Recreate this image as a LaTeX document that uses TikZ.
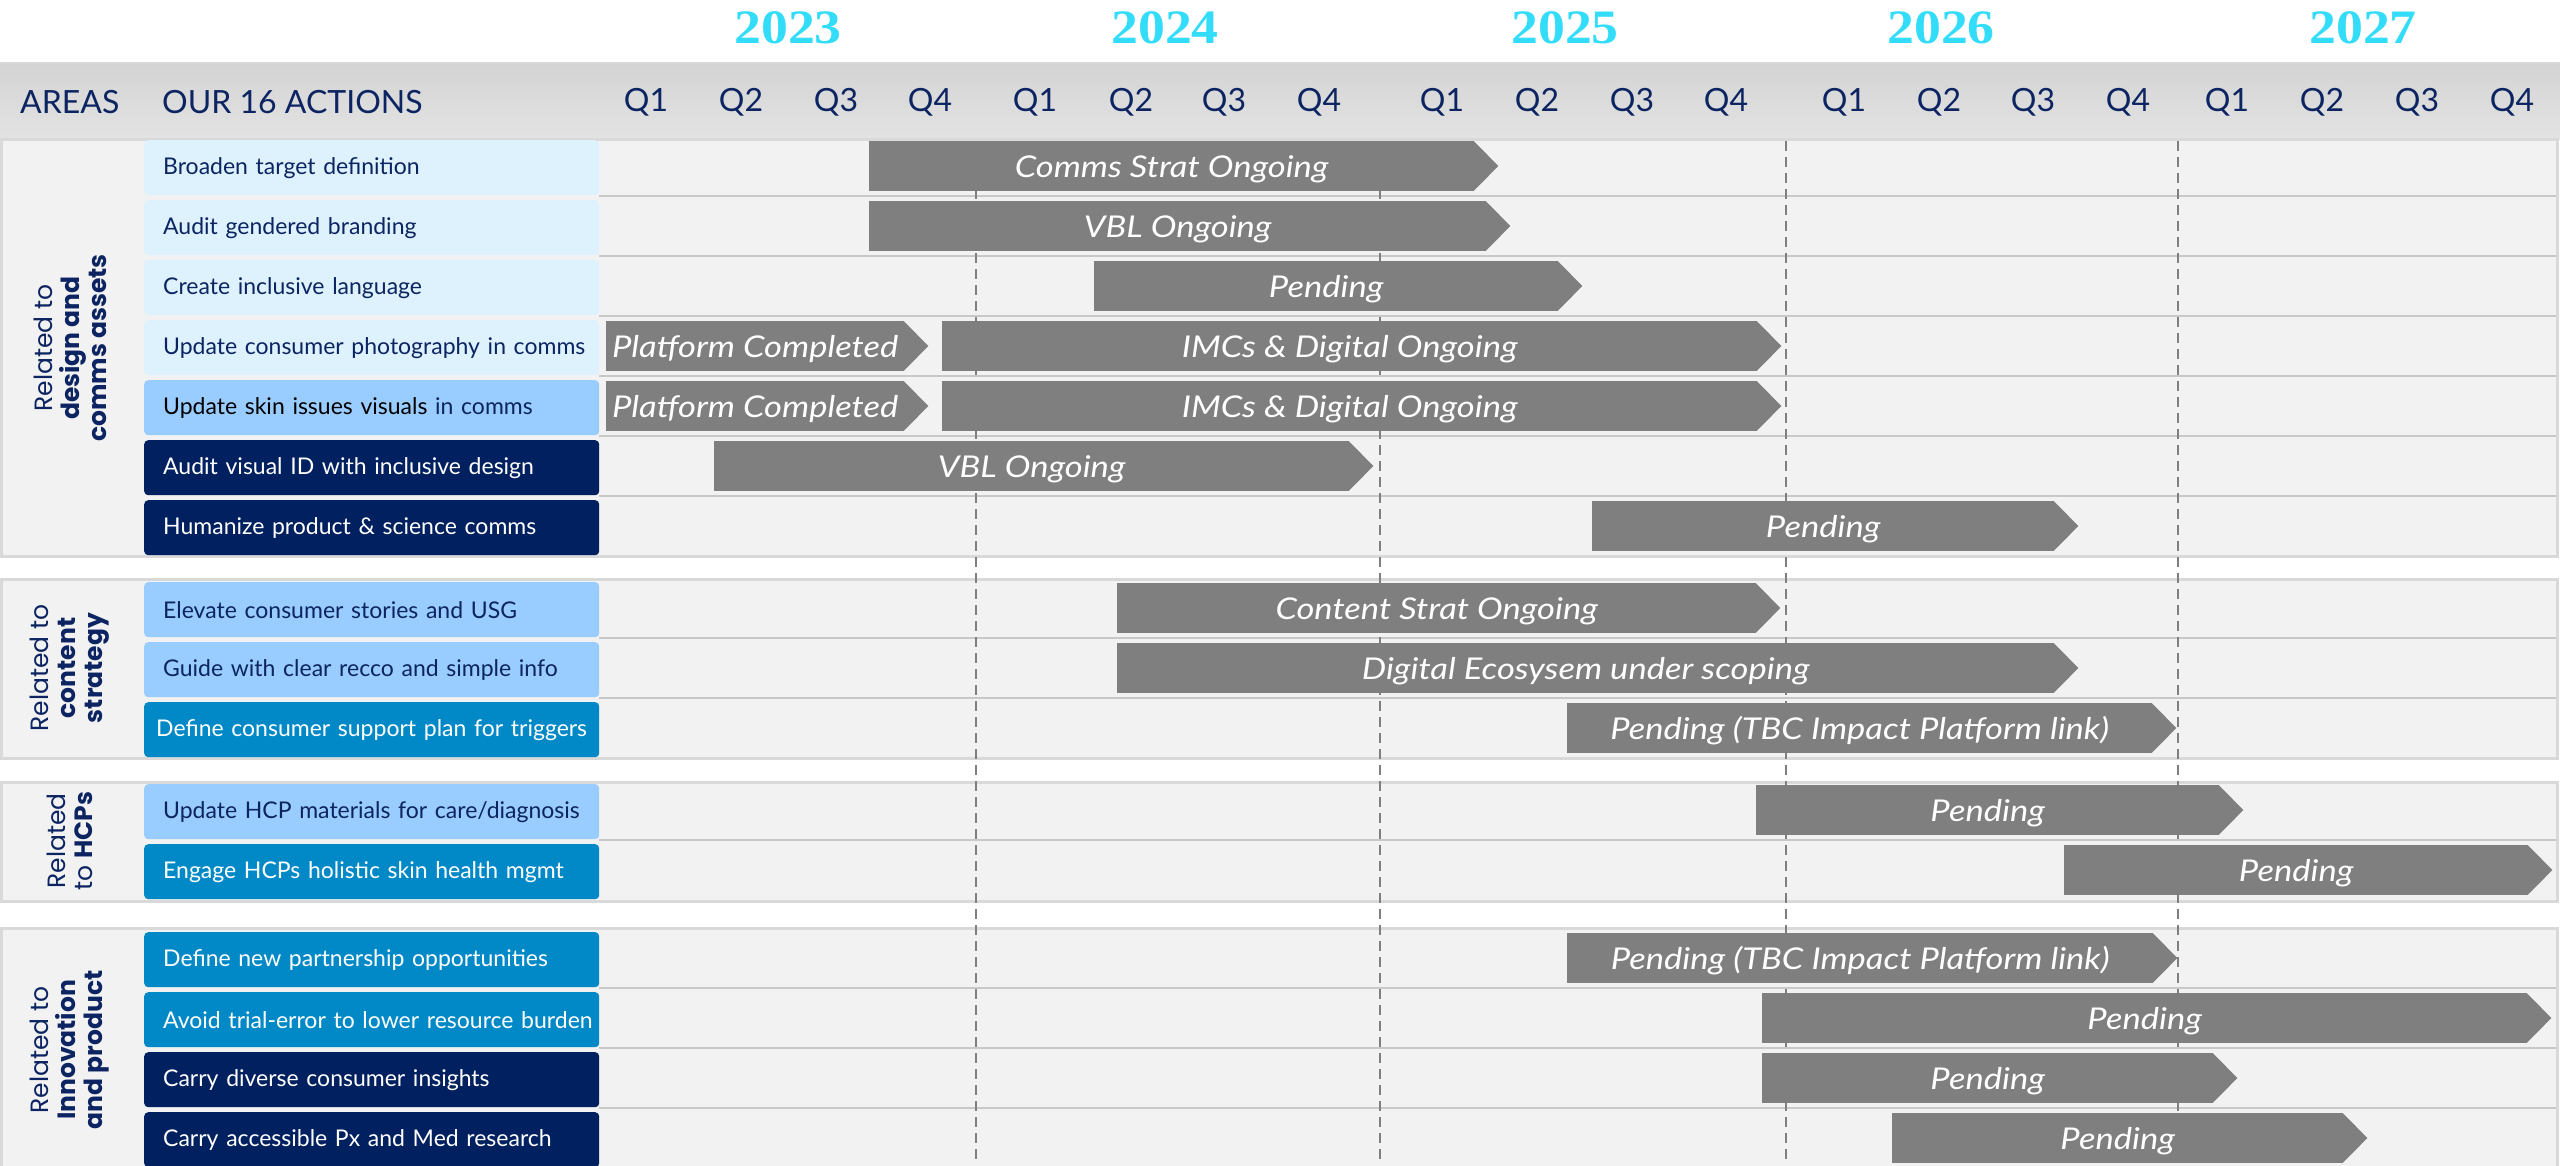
\documentclass[tikz,border=0pt]{standalone}
\usepackage{fontspec}
\setmainfont{Lato}
\newfontfamily\barfont[FakeStretch=1.15]{Lato}
\newfontfamily\areafont{Poppins}
\newfontfamily\yearfont[FakeStretch=1.12]{Liberation Serif}
\usepackage{tikz}

\definecolor{navy}{HTML}{0C2461}
\definecolor{actnavy}{HTML}{002060}
\definecolor{actteal}{HTML}{0089C6}
\definecolor{actmid}{HTML}{99CCFF}
\definecolor{actlight}{HTML}{DDF2FD}
\definecolor{bargray}{HTML}{7F7F7F}
\definecolor{panelgray}{HTML}{F2F2F2}
\definecolor{panelline}{HTML}{D9D9D9}
\definecolor{sepgray}{HTML}{C8C8C8}
\definecolor{yearcyan}{HTML}{33DDFA}

\begin{document}
\begin{tikzpicture}[x=1pt, y=-1pt,
        panel/.style={fill=panelgray, draw=panelline, line width=3pt},
        rowline/.style={draw=sepgray, line width=2pt},
        yeardash/.style={draw=bargray, line width=2pt, dash pattern=on 10pt off 6pt},
        head/.style={text=navy, inner sep=0pt, font=\fontsize{32}{36}\selectfont},
        year/.style={text=yearcyan, inner sep=0pt, font=\yearfont\bfseries\fontsize{48}{50}\selectfont},
        area/.style={text=navy, rotate=90, align=center, inner sep=0pt, font=\areafont\fontsize{25}{27}\selectfont},
        act/.style={anchor=north west, minimum height=55pt, text width=455pt, inner sep=0pt, align=left, rounded corners=4pt, font=\fontsize{23}{27}\selectfont, execute at begin node=\hspace{19pt}},
        lite/.style={act, fill=actlight, text=navy},
        mid/.style={act, fill=actmid, text=navy},
        teal/.style={act, fill=actteal, text=white},
        dark/.style={act, fill=actnavy, text=white},
        bar/.style={anchor=west, fill=bargray, minimum height=50pt, inner sep=0pt, text height=22pt, text depth=0pt, text=white, font=\barfont\itshape\fontsize{30}{32}\selectfont}]
        \useasboundingbox (0,0) rectangle (2560,1165);
        \clip (0,0) rectangle (2560,1165);
        \fill[white] (0,0) rectangle (2560,1165);

        \shade[top color=black!17, middle color=black!7, bottom color=black!11] (0,63) rectangle (2560,139);
        \draw[panelline, line width=1.5pt] (0,63) -- (2560,63);

        \draw[panel] (1.5,139) rectangle (2557,556);
        \draw[panel] (1.5,579) rectangle (2557,758);
        \draw[panel] (1.5,782) rectangle (2557,901);
        \draw[panel] (1.5,928) rectangle (2557,1180);

        \foreach \y in {196,256,316,376,436,496,638,698,840,988,1048,1108}
                \draw[rowline] (599,\y) -- (2556,\y);

        \foreach \x in {976,1380,1786,2178}
                \draw[yeardash] (\x,141) -- (\x,1165);

        \node[year] (Y23) at (788,28) {2023};
        \node[year] (Y24) at (1165,28) {2024};
        \node[year] (Y25) at (1565,28) {2025};
        \node[year] (Y26) at (1941,28) {2026};
        \node[year] (Y27) at (2363,28) {2027};

        \node[head, anchor=west] (AR) at (20,102) {AREAS};
        \node[head, anchor=west] (OA) at (162,102) {OUR 16 ACTIONS};
        \node[head] (Q1a) at (646,102) {Q1}; \node[head] (Q2a) at (741,102) {Q2}; \node[head] (Q3a) at (836,102) {Q3}; \node[head] (Q4a) at (930,102) {Q4};
        \node[head] (Q1b) at (1035,102) {Q1}; \node[head] (Q2b) at (1131,102) {Q2}; \node[head] (Q3b) at (1224,102) {Q3}; \node[head] (Q4b) at (1319,102) {Q4};
        \node[head] (Q1c) at (1442,102) {Q1}; \node[head] (Q2c) at (1537,102) {Q2}; \node[head] (Q3c) at (1632,102) {Q3}; \node[head] (Q4c) at (1726,102) {Q4};
        \node[head] (Q1d) at (1844,102) {Q1}; \node[head] (Q2d) at (1939,102) {Q2}; \node[head] (Q3d) at (2033,102) {Q3}; \node[head] (Q4d) at (2128,102) {Q4};
        \node[head] (Q1e) at (2227,102) {Q1}; \node[head] (Q2e) at (2322,102) {Q2}; \node[head] (Q3e) at (2417,102) {Q3}; \node[head] (Q4e) at (2512,102) {Q4};

        \node[area] (G1) at (70,348) {Related to\\\textbf{design and}\\\textbf{comms assets}};
        \node[area] (G2) at (70,668) {Related to\\\textbf{content}\\\textbf{strategy}};
        \node[area] (G3) at (70,841) {Related\\to \textbf{HCPs}};
        \node[area] (G4) at (70,1050) {Related to\\\textbf{Innovation}\\\textbf{and product}};

        \node[lite] (A1) at (144,140) {Broaden target definition};
        \node[lite] (A2) at (144,200) {Audit gendered branding};
        \node[lite] (A3) at (144,260) {Create inclusive language};
        \node[lite] (A4) at (144,320) {Update consumer photography in comms};
        \node[mid] (A5) at (144,380) {{\color{black}Update skin issues visuals} in comms};
        \node[dark] (A6) at (144,440) {Audit visual ID with inclusive design};
        \node[dark] (A7) at (144,500) {Humanize product \& science comms};
        \node[mid] (A8) at (144,582) {Elevate consumer stories and USG};
        \node[mid] (A9) at (144,642) {Guide with clear recco and simple info};
        \node[teal, execute at begin node=\hspace{-7pt}] (A10) at (144,702) {\mbox{Define consumer support plan for triggers}};
        \node[mid] (A11) at (144,784) {Update HCP materials for care/diagnosis};
        \node[teal] (A12) at (144,844) {Engage HCPs holistic skin health mgmt};
        \node[teal] (A13) at (144,932) {Define new partnership opportunities};
        \node[teal] (A14) at (144,992) {Avoid trial-error to lower resource burden};
        \node[dark] (A15) at (144,1052) {Carry diverse consumer insights};
        \node[dark] (A16) at (144,1112) {Carry accessible Px and Med research};

        \node[bar, minimum width=605pt] (B1) at (869,166) {Comms Strat Ongoing};
        \node[bar, minimum width=617pt] (B2) at (869,226) {VBL Ongoing};
        \node[bar, minimum width=464pt] (B3) at (1094,286) {Pending};
        \node[bar, minimum width=298pt] (B4) at (606,346) {Platform Completed};
        \node[bar, minimum width=815pt] (B5) at (942,346) {IMCs \& Digital Ongoing};
        \node[bar, minimum width=298pt] (B6) at (606,406) {Platform Completed};
        \node[bar, minimum width=815pt] (B7) at (942,406) {IMCs \& Digital Ongoing};
        \node[bar, minimum width=635pt] (B8) at (714,466) {VBL Ongoing};
        \node[bar, minimum width=462pt] (B9) at (1592,526) {Pending};
        \node[bar, minimum width=639pt] (B10) at (1117,608) {Content Strat Ongoing};
        \node[bar, minimum width=937pt] (B11) at (1117,668) {Digital Ecosysem under scoping};
        \node[bar, minimum width=585pt] (B12) at (1567,728) {Pending (TBC Impact Platform link)};
        \node[bar, minimum width=463pt] (B13) at (1756,810) {Pending};
        \node[bar, minimum width=464pt] (B14) at (2064,870) {Pending};
        \node[bar, minimum width=586pt] (B15) at (1567,958) {Pending (TBC Impact Platform link)};
        \node[bar, minimum width=765pt] (B16) at (1762,1018) {Pending};
        \node[bar, minimum width=451pt] (B17) at (1762,1078) {Pending};
        \node[bar, minimum width=451pt] (B18) at (1892,1138) {Pending};

        \foreach \i in {1,...,18}
                \fill[bargray] ([xshift=-1pt]B\i.north east) -- ([xshift=24pt]B\i.east) -- ([xshift=-1pt]B\i.south east) -- cycle;
\end{tikzpicture}
\end{document}
